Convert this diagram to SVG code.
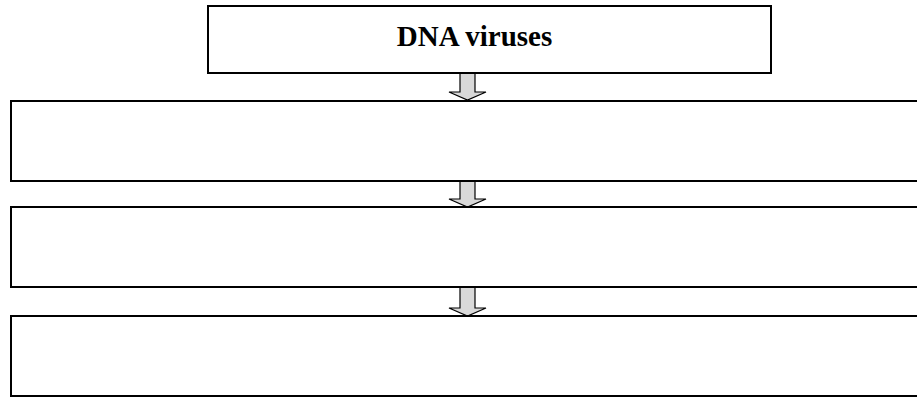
<svg xmlns="http://www.w3.org/2000/svg" width="917" height="397" viewBox="0 0 917 397">
<style>
.box{fill:#fff;stroke:#000;stroke-width:2}
.arr{fill:#d9d9d9;stroke:#000;stroke-width:1.2;stroke-linejoin:miter}
.t{font-family:"Liberation Serif",serif;font-weight:bold;font-size:29px;fill:#000}
</style>
<rect width="917" height="397" fill="#fff"/>
<g id="connectors">
<path class="arr" d="M460,73 H475 V92 H486 L467.5,100 L449,92 H460 Z"/>
<path class="arr" d="M460,181 H475 V199 H486 L467.5,207 L449,199 H460 Z"/>
<path class="arr" d="M460,287 H475 V308 H486 L467.5,316 L449,308 H460 Z"/>
</g>
<g id="n1"><rect class="box" x="208" y="6" width="563" height="67"/>
<text class="t" x="474.5" y="46" text-anchor="middle">DNA viruses</text></g>
<g id="n2"><rect class="box" x="11" y="101" width="910" height="80"/></g>
<g id="n3"><rect class="box" x="11" y="207" width="910" height="80"/></g>
<g id="n4"><rect class="box" x="11" y="316" width="910" height="80"/></g>
</svg>
